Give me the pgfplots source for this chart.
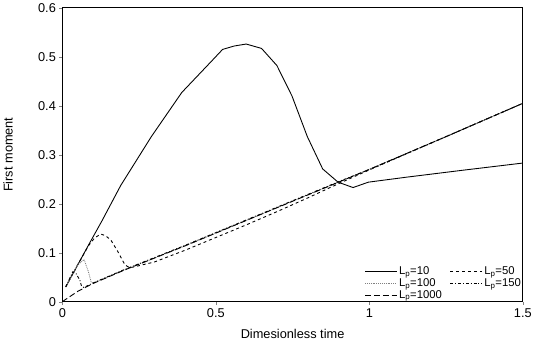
\documentclass[border=0pt]{standalone}
\usepackage{fontspec}
\setmainfont{Liberation Sans}
\usepackage{pgfplots}
\pgfplotsset{compat=1.18}
\begin{document}
\begin{tikzpicture}
\begin{axis}[
  scale only axis,
  width=467bp, height=298bp,
  xmin=0, xmax=1.5, ymin=0, ymax=0.6,
  xtick={0,0.5,1,1.5}, ytick={0,0.1,0.2,0.3,0.4,0.5,0.6},
  xticklabels={0,0.5,1,1.5},
  yticklabels={0,0.1,0.2,0.3,0.4,0.5,0.6},
  tick align=outside, xtick pos=left, ytick pos=left,
  major tick length=3bp,
  tick label style={font=\fontsize{13}{15}\selectfont},
  xticklabel style={yshift=-1bp},
  label style={font=\fontsize{13}{15}\selectfont},
  xlabel={Dimesionless time}, ylabel={First moment},
  xlabel style={yshift=-4bp}, ylabel style={yshift=19bp},
  axis line style={line width=0.8pt},
  every axis plot/.append style={line width=0.9pt, black},
  legend columns=2,
  legend style={at={(rel axis cs:1,0)}, anchor=south east, draw=none, fill=none,
    inner sep=0pt, outer sep=0pt, font=\fontsize{11.5}{11.5}\selectfont,
    /tikz/every even column/.append style={column sep=6bp},
    row sep=-1.5bp},
  legend cell align=left,
  legend image code/.code={\draw[#1] (0bp,0bp) -- (32bp,0bp);},
]
% L=10
\addplot[solid] coordinates {
(0.011,0.030) (0.05,0.075) (0.091,0.122) (0.13,0.166) (0.190,0.237) (0.290,0.337)
(0.389,0.427) (0.489,0.493) (0.522,0.515) (0.560,0.522) (0.599,0.526) (0.649,0.517)
(0.699,0.482) (0.748,0.420) (0.798,0.337) (0.848,0.271) (0.898,0.244) (0.947,0.233)
(0.997,0.244) (1.119,0.254) (1.3,0.268) (1.5,0.283)};
\addlegendentry{L$_{\mathrm{p}}$=10}
% L=50
\addplot[dashed] coordinates {
(0.011,0.030) (0.05,0.075) (0.085,0.114) (0.105,0.130) (0.125,0.138) (0.14,0.135)
(0.158,0.126) (0.181,0.102) (0.204,0.075) (0.22,0.069) (0.3,0.081) (0.4,0.105)
(0.5,0.131) (0.6,0.157) (0.7,0.184) (0.8,0.212) (0.9,0.241) (1.0,0.269) (1.25,0.337) (1.5,0.405)};
\addlegendentry{L$_{\mathrm{p}}$=50}
% L=100
\addplot[densely dotted, gray] coordinates {
(0.011,0.030) (0.05,0.075) (0.071,0.086) (0.085,0.061) (0.094,0.040) (0.1,0.038)
(0.2,0.064) (0.3,0.089) (0.4,0.114) (0.5,0.140) (0.6,0.166) (0.7,0.192) (0.8,0.218)
(0.9,0.244) (1.0,0.270) (1.25,0.337) (1.5,0.405)};
\addlegendentry{L$_{\mathrm{p}}$=100}
% L=150
\addplot[dash dot] coordinates {
(0.011,0.030) (0.034,0.061) (0.045,0.057) (0.057,0.044) (0.062,0.033) (0.07,0.029)
(0.1,0.038) (0.2,0.065) (0.3,0.090) (0.4,0.115) (0.5,0.141) (0.6,0.167) (0.7,0.193)
(0.8,0.219) (0.9,0.245) (1.0,0.270) (1.25,0.337) (1.5,0.405)};
\addlegendentry{L$_{\mathrm{p}}$=150}
% L=1000
\addplot[dash pattern=on 6bp off 3bp] coordinates {
(0,0) (0.05,0.021) (0.1,0.037) (0.2,0.064) (0.3,0.089) (0.4,0.114) (0.5,0.140)
(0.6,0.166) (0.7,0.192) (0.8,0.218) (0.9,0.244) (1.0,0.270) (1.25,0.337) (1.5,0.405)};
\addlegendentry{L$_{\mathrm{p}}$=1000}
\end{axis}
\end{tikzpicture}
\end{document}
